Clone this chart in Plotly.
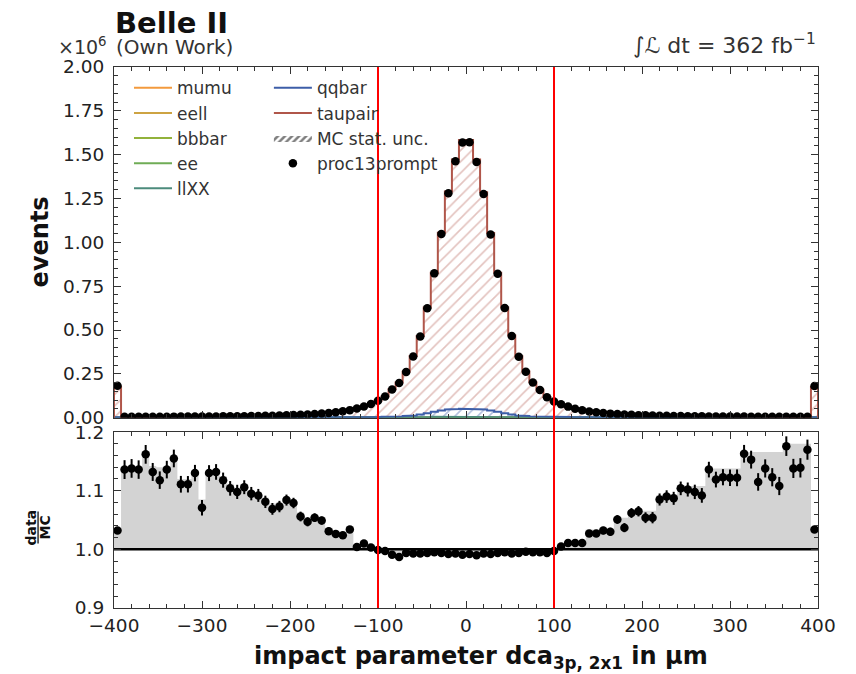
import numpy as np
import plotly.graph_objects as go

# ---------------------------------------------------------------------------
# Binning of the impact parameter dca_{3p,2x1} in µm
# ---------------------------------------------------------------------------
x_lo, x_hi, n_bins = -400.0, 400.0, 100
edges = np.linspace(x_lo, x_hi, n_bins + 1)
centers = 0.5 * (edges[:-1] + edges[1:])

# recorded events per bin (proc13prompt); outer bins carry the overflow
data_events = [
    182000, 5000, 5100, 5200, 5300, 5450, 5600, 5750, 5900, 6100,
    6300, 6500, 6700, 6950, 7200, 7500, 7850, 8250, 8700, 9200,
    9800, 10500, 11300, 12200, 13300, 14600, 16200, 18100, 20400, 23200,
    26600, 30800, 36000, 43000, 52000, 64000, 78000, 96000, 121000, 160000,
    198000, 260000, 349000, 463000, 624000, 823000, 1048000, 1280000, 1462000, 1569000,
    1571000, 1458000, 1276000, 1045000, 821000, 625000, 466000, 348000, 262000, 201000,
    158000, 117000, 92000, 77000, 63000, 51000, 42500, 35500, 30500, 26300,
    23000, 20200, 17900, 16000, 14400, 13100, 12000, 11100, 10300, 9600,
    9000, 8500, 8000, 7600, 7250, 6950, 6650, 6400, 6150, 5950,
    5750, 5550, 5400, 5250, 5100, 4950, 4850, 4750, 4650, 181000,
]

# data / MC per bin
ratio_values = [
    1.032, 1.136, 1.138, 1.136, 1.162, 1.132, 1.118, 1.136, 1.155, 1.111,
    1.111, 1.130, 1.071, 1.130, 1.132, 1.118, 1.104, 1.098, 1.106, 1.095,
    1.092, 1.081, 1.069, 1.073, 1.084, 1.079, 1.056, 1.047, 1.054, 1.049,
    1.031, 1.026, 1.024, 1.034, 1.004, 1.010, 1.003, 0.999, 0.997, 0.991,
    0.987, 0.994, 0.993, 0.993, 0.994, 0.995, 0.994, 0.992, 0.993, 0.991,
    0.992, 0.990, 0.993, 0.992, 0.994, 0.995, 0.993, 0.994, 0.996, 0.995,
    0.995, 0.994, 0.997, 1.005, 1.011, 1.011, 1.011, 1.027, 1.027, 1.032,
    1.030, 1.051, 1.037, 1.062, 1.065, 1.054, 1.054, 1.085, 1.090, 1.087,
    1.104, 1.102, 1.098, 1.092, 1.136, 1.119, 1.123, 1.122, 1.122, 1.163,
    1.153, 1.115, 1.138, 1.123, 1.108, 1.176, 1.138, 1.139, 1.170, 1.034,
]

# level of the grey ratio band per bin
ratio_band = [
    1.032, 1.140, 1.140, 1.140, 1.165, 1.142, 1.140, 1.140, 1.158, 1.120,
    1.120, 1.135, 1.085, 1.135, 1.135, 1.125, 1.112, 1.105, 1.112, 1.100,
    1.097, 1.088, 1.078, 1.080, 1.090, 1.085, 1.063, 1.055, 1.060, 1.055,
    1.037, 1.032, 1.030, 1.040, 1.004, 1.010, 1.003, 0.999, 0.997, 0.991,
    0.987, 0.994, 0.993, 0.993, 0.994, 0.995, 0.994, 0.992, 0.993, 0.991,
    0.992, 0.990, 0.993, 0.992, 0.994, 0.995, 0.993, 0.994, 0.996, 0.995,
    0.995, 0.994, 0.997, 1.007, 1.013, 1.013, 1.013, 1.034, 1.034, 1.034,
    1.034, 1.054, 1.054, 1.067, 1.068, 1.066, 1.066, 1.092, 1.094, 1.094,
    1.108, 1.108, 1.108, 1.108, 1.138, 1.138, 1.138, 1.138, 1.138, 1.166,
    1.166, 1.166, 1.166, 1.166, 1.166, 1.180, 1.180, 1.180, 1.180, 1.034,
]

# background processes (events per bin), stacked below taupair
mumu = [
    90, 20, 20, 20, 20, 21, 21, 21, 22, 22, 22, 23, 23, 24, 24, 25, 26, 27, 28, 29,
    30, 32, 34, 36, 38, 41, 44, 48, 52, 57, 63, 70, 78, 87, 97, 108, 120, 134, 149, 165,
    182, 199, 216, 232, 247, 260, 271, 280, 286, 290,
    291, 287, 281, 272, 261, 248, 233, 217, 200, 183, 166, 150, 135, 121, 109, 98, 88, 79, 71, 64,
    58, 53, 49, 45, 42, 39, 37, 35, 33, 31, 30, 29, 28, 27, 26, 25, 24, 24, 23, 23,
    22, 22, 22, 21, 21, 21, 20, 20, 20, 90,
]
eell = [
    120, 30, 30, 30, 31, 31, 32, 32, 33, 33, 34, 35, 36, 37, 38, 39, 40, 42, 44, 46,
    48, 50, 53, 56, 60, 64, 69, 75, 82, 90, 99, 110, 122, 136, 152, 170, 190, 212, 236, 262,
    290, 318, 346, 374, 400, 424, 446, 464, 478, 486,
    488, 480, 466, 448, 426, 402, 376, 348, 320, 292, 264, 238, 214, 192, 172, 154, 138, 124, 111, 100,
    91, 83, 76, 70, 65, 60, 56, 53, 50, 48, 46, 44, 42, 40, 39, 38, 37, 36, 35, 34,
    33, 33, 32, 32, 31, 31, 30, 30, 30, 120,
]
bbbar = [
    200, 40, 40, 41, 41, 42, 42, 43, 44, 45, 46, 47, 48, 50, 52, 54, 56, 58, 61, 64,
    67, 71, 75, 80, 86, 92, 100, 108, 118, 130, 144, 160, 178, 200, 226, 256, 290, 330, 374, 422,
    474, 530, 586, 642, 696, 746, 790, 826, 852, 866,
    868, 850, 824, 788, 744, 694, 640, 584, 528, 472, 420, 372, 328, 288, 254, 224, 198, 176, 158, 142,
    128, 116, 106, 98, 90, 84, 78, 73, 69, 65, 62, 59, 57, 55, 53, 51, 49, 48, 47, 46,
    45, 44, 43, 42, 42, 41, 41, 40, 40, 200,
]
ee = [
    300, 60, 60, 60, 62, 62, 64, 64, 66, 66, 68, 70, 72, 74, 76, 78, 80, 84, 88, 92,
    96, 100, 106, 112, 120, 128, 138, 150, 164, 180, 200, 224, 252, 286, 326, 372, 426, 488, 560, 640,
    730, 830, 930, 1030, 1130, 1220, 1300, 1360, 1400, 1420,
    1420, 1395, 1355, 1295, 1215, 1125, 1025, 925, 825, 725, 635, 555, 485, 422, 368, 324, 284, 250, 222, 198,
    178, 162, 148, 137, 127, 119, 111, 105, 99, 94, 90, 86, 82, 79, 77, 75, 73, 71, 69, 67,
    66, 65, 64, 63, 62, 61, 60, 60, 60, 300,
]
llXX = [
    800, 140, 140, 145, 145, 150, 150, 155, 155, 160, 160, 165, 170, 175, 180, 185, 190, 195, 200, 210,
    220, 230, 240, 250, 265, 280, 300, 320, 340, 370, 400, 430, 470, 520, 580, 650, 740, 850, 980, 1130,
    1300, 1480, 1660, 1840, 2000, 2150, 2280, 2380, 2450, 2490,
    2500, 2440, 2370, 2270, 2140, 1990, 1830, 1650, 1470, 1290, 1120, 970, 840, 730, 640, 570, 510, 460, 420, 390,
    360, 335, 315, 295, 280, 265, 250, 240, 230, 220, 210, 200, 195, 190, 185, 180, 175, 170, 165, 160,
    158, 155, 152, 150, 148, 146, 144, 142, 140, 790,
]
qqbar = [
    1500, 300, 300, 310, 320, 330, 340, 350, 360, 370, 380, 390, 400, 420, 440, 460, 480, 500, 520, 540,
    570, 600, 630, 670, 710, 760, 810, 870, 930, 1000, 1070, 1150, 1250, 1380, 1530, 1720, 1950, 2250, 2650, 3300,
    4300, 6000, 9000, 14000, 21000, 29000, 36000, 41000, 44000, 45500,
    45000, 44500, 41500, 36500, 29500, 21000, 14000, 9000, 6000, 4300, 3200, 2600, 2200, 1900, 1700, 1500, 1350, 1230, 1120, 1040,
    960, 880, 820, 760, 710, 670, 630, 600, 570, 540, 510, 490, 470, 450, 430, 410, 395, 380, 370, 360,
    350, 340, 330, 320, 315, 310, 305, 300, 300, 1500,
]

# signal-region boundaries in µm
cut_positions = [-100.0, 100.0]

process_names = ["mumu", "eell", "bbbar", "ee", "llXX", "qqbar", "taupair"]
process_colors = {
    "mumu": "#f39a3d", "eell": "#cda342", "bbbar": "#92b23b", "ee": "#6fac56",
    "llXX": "#4c8b7c", "qqbar": "#3d5ea8", "taupair": "#b0564a",
}
hatch_colors = {
    "mumu": "rgba(243,154,61,0.6)", "eell": "rgba(205,163,66,0.6)",
    "bbbar": "rgba(146,178,59,0.6)", "ee": "rgba(111,172,86,0.6)",
    "llXX": "rgba(76,139,124,0.6)", "qqbar": "rgba(61,94,168,0.8)",
    "taupair": "rgba(176,86,74,0.72)",
}

# ---------------------------------------------------------------------------
# Derived quantities
# ---------------------------------------------------------------------------
data = np.asarray(data_events, dtype=float)
ratio = np.asarray(ratio_values, dtype=float)
mc_total = data / ratio
backgrounds = [np.asarray(a, dtype=float) for a in (mumu, eell, bbbar, ee, llXX, qqbar)]
taupair = mc_total - np.sum(backgrounds, axis=0)
components = backgrounds + [taupair]
stack = np.cumsum(components, axis=0)          # cumulative, in events
mc_err = np.sqrt(mc_total)
data_err = np.sqrt(data)
ratio_err = ratio / np.sqrt(data)

SCALE = 1e-6    # main panel is drawn in units of 10^6 events


def step_xy(values, base=0.0):
    """Vertices of a histogram outline that starts and ends at `base`."""
    xs = np.repeat(edges, 2)
    ys = np.concatenate([[base], np.repeat(values, 2), [base]])
    return xs, ys


# ---------------------------------------------------------------------------
# Figure geometry: the plotting area spans both panels
# ---------------------------------------------------------------------------
W, H = 856, 674
L, R, T, B = 114.0, 818.5, 66.7, 607.6       # outer frame of the two panels
PW, PH = R - L, B - T
px_x = lambda p: (p - L) / PW
px_y = lambda p: (B - p) / PH
main_dom = [px_y(417.3), 1.0]
ratio_dom = [0.0, px_y(431.7)]

FONT = "DejaVu Sans"
fig = go.Figure()

# hatched fills of the stacked processes
prev = np.zeros(n_bins)
for name, cum in zip(process_names, stack):
    ux, uy = step_xy(cum * SCALE)
    lx, ly = step_xy(prev * SCALE)
    fig.add_trace(go.Scatter(
        x=np.concatenate([ux, lx[::-1]]), y=np.concatenate([uy, ly[::-1]]),
        mode="lines", line=dict(width=0), fill="toself",
        fillcolor="rgba(255,255,255,0)",
        fillpattern=dict(shape="/", fgcolor=hatch_colors[name], bgcolor="rgba(255,255,255,0)",
                         size=8, solidity=0.2, fillmode="overlay"),
        showlegend=False, hoverinfo="skip", xaxis="x", yaxis="y",
    ))
    prev = cum

# outlines of the stacked processes
for k, (name, cum) in enumerate(zip(process_names, stack)):
    sx, sy = step_xy(cum * SCALE)
    fig.add_trace(go.Scatter(
        x=sx, y=sy, mode="lines", name=name,
        line=dict(color=process_colors[name], width=2),
        legend="legend" if k < 5 else "legend2", legendgroup=name,
        xaxis="x", yaxis="y",
    ))

# MC statistical uncertainty band
ux, uy = step_xy((mc_total + mc_err) * SCALE)
lx, ly = step_xy((mc_total - mc_err) * SCALE)
fig.add_trace(go.Scatter(
    x=np.concatenate([ux, lx[::-1]]), y=np.concatenate([uy, ly[::-1]]),
    mode="lines", line=dict(width=0), fill="toself", name="MC stat. unc.",
    fillcolor="rgba(255,255,255,0)",
    fillpattern=dict(shape="/", fgcolor="black", bgcolor="rgba(255,255,255,0)",
                     size=5, solidity=0.5, fillmode="overlay"),
    legend="legend2", legendgroup="mcunc", xaxis="x", yaxis="y",
))

# data points
fig.add_trace(go.Scatter(
    x=centers, y=data * SCALE, mode="markers", name="proc13prompt",
    marker=dict(color="black", size=8.5, symbol="circle"),
    error_y=dict(type="data", array=data_err * SCALE, color="black", thickness=2, width=0),
    legend="legend2", legendgroup="data", xaxis="x", yaxis="y",
))

# ratio panel: grey band, unity line, data/MC points
bx, by = step_xy(np.asarray(ratio_band), base=1.0)
fig.add_trace(go.Scatter(
    x=bx, y=by, mode="lines", line=dict(width=0), fill="toself",
    fillcolor="#d3d3d3", showlegend=False, hoverinfo="skip", xaxis="x2", yaxis="y2",
))
fig.add_trace(go.Scatter(
    x=[x_lo, x_hi], y=[1.0, 1.0], mode="lines", line=dict(color="black", width=2.5),
    showlegend=False, hoverinfo="skip", xaxis="x2", yaxis="y2",
))
fig.add_trace(go.Scatter(
    x=centers, y=ratio, mode="markers", showlegend=False,
    marker=dict(color="black", size=8.5),
    error_y=dict(type="data", array=ratio_err, color="black", thickness=2, width=0),
    xaxis="x2", yaxis="y2",
))

# vertical cut lines through both panels
for c in cut_positions:
    fig.add_shape(type="line", xref="x", yref="paper", x0=c, x1=c,
                  y0=0, y1=1, line=dict(color="#ff0000", width=2), layer="above")

TICK = 18.5
axis_common = dict(
    showline=True, linecolor="#333333", linewidth=1.2, mirror="ticks",
    ticks="inside", ticklen=7, tickwidth=1, tickcolor="#333333",
    showgrid=False, zeroline=False,
    tickfont=dict(family=FONT, size=TICK, color="#222222"),
)

legend_common = dict(
    xanchor="left", yanchor="top", bgcolor="rgba(0,0,0,0)", tracegroupgap=0,
    itemwidth=38, font=dict(family=FONT, size=17, color="#333333"),
)

fig.update_layout(
    width=W, height=H,
    margin=dict(l=L, r=W - R, t=T, b=H - B, autoexpand=False),
    paper_bgcolor="white", plot_bgcolor="white",
    font=dict(family=FONT, color="#222222"),
    xaxis=dict(domain=[0, 1], anchor="y", range=[x_lo, x_hi], dtick=100, tick0=0,
               showticklabels=False,
               minor=dict(ticks="inside", ticklen=4, dtick=20, tickcolor="#333333"),
               **axis_common),
    yaxis=dict(domain=main_dom, anchor="x", range=[0, 2.0], dtick=0.25, tick0=0,
               tickformat=".2f", ticklabelstandoff=5,
               minor=dict(ticks="inside", ticklen=4, dtick=0.05, tickcolor="#333333"),
               **axis_common),
    xaxis2=dict(domain=[0, 1], anchor="y2", range=[x_lo, x_hi], dtick=100, tick0=0,
                matches="x", ticklabelstandoff=1,
                minor=dict(ticks="inside", ticklen=4, dtick=20, tickcolor="#333333"),
                **axis_common),
    yaxis2=dict(domain=ratio_dom, anchor="x2", range=[0.9, 1.2], dtick=0.1, tick0=0.9,
                tickformat=".1f", ticklabelstandoff=5,
                minor=dict(ticks="inside", ticklen=4, dtick=0.02, tickcolor="#333333"),
                **axis_common),
    legend=dict(x=px_x(129), y=px_y(70), **legend_common),
    legend2=dict(x=px_x(269), y=px_y(70), **legend_common),
    showlegend=True,
)

annotations = [
    dict(text="<b>Belle II</b>", x=px_x(113), y=px_y(23), xanchor="left", yanchor="middle",
         font=dict(size=29, color="#111111")),
    dict(text="(Own Work)", x=px_x(114), y=px_y(47), xanchor="left", yanchor="middle",
         font=dict(size=20, color="#333333")),
    dict(text="×10<sup>6</sup>", x=px_x(109), y=px_y(46), xanchor="right", yanchor="middle",
         font=dict(size=19, color="#333333")),
    dict(text="∫<i>ℒ</i> dt = 362 fb<sup>−1</sup>", x=px_x(818), y=px_y(44),
         xanchor="right", yanchor="middle", font=dict(size=22, color="#333333")),
    dict(text="<b>events</b>", x=px_x(40), y=px_y(242), textangle=-90,
         xanchor="center", yanchor="middle", font=dict(size=24, color="#111111")),
    dict(text="<b>data</b>", x=px_x(31), y=px_y(527), textangle=-90,
         xanchor="center", yanchor="middle", font=dict(size=14, color="#111111")),
    dict(text="<b>MC</b>", x=px_x(45), y=px_y(527), textangle=-90,
         xanchor="center", yanchor="middle", font=dict(size=14, color="#111111")),
    dict(text="<b>impact parameter dca<sub>3p, 2x1</sub> in µm</b>", x=px_x(481), y=px_y(657),
         xanchor="center", yanchor="middle", font=dict(size=24, color="#111111")),
]
for a in annotations:
    a.update(xref="paper", yref="paper", showarrow=False)
fig.update_layout(annotations=annotations)

# fraction bar of the ratio label
fig.add_shape(type="line", xref="paper", yref="paper",
              x0=px_x(38), x1=px_x(38), y0=px_y(511), y1=px_y(543),
              line=dict(color="#111111", width=1.3))

fig.write_html("out.html")
